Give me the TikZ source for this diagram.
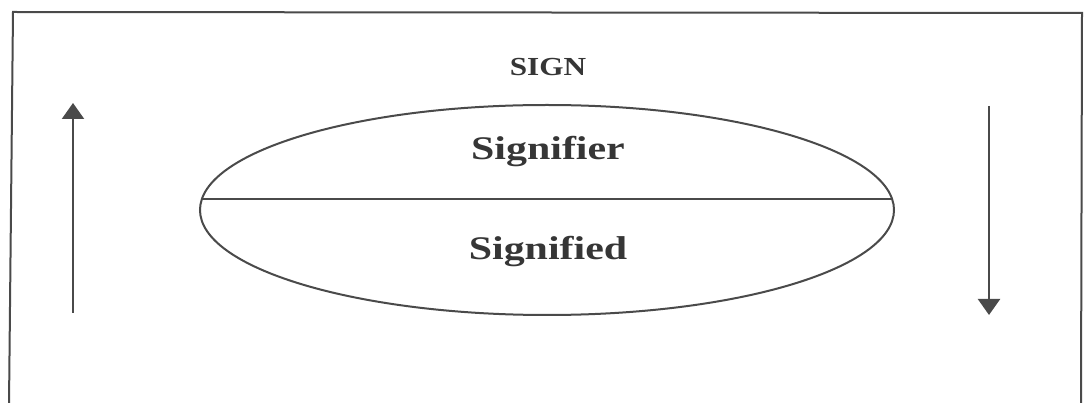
\documentclass[tikz,border=0pt]{standalone}
\usepackage{fontspec}
\setmainfont{Liberation Serif}
\usetikzlibrary{arrows.meta,shapes.geometric}
\definecolor{ink}{HTML}{4A4A4A}
\definecolor{txt}{HTML}{363636}
\begin{document}
\begin{tikzpicture}[x=1pt,y=-1pt,
  frameline/.style={draw=ink,line width=2pt},
  arr/.style={draw=ink,line width=2.2pt,-{Triangle[width=22pt,length=16pt]}},
  label/.style={text=txt,font=\bfseries,inner sep=0pt,anchor=base}]
\useasboundingbox[fill=white] (0,0) rectangle (1085,403);
% frame (open at the bottom)
\coordinate (fbl) at (9,405);
\coordinate (ftl) at (13,12);
\coordinate (ftr) at (1082,13);
\coordinate (fbr) at (1081,405);
\draw[frameline] (fbl) -- (ftl) -- (ftr) -- (fbr);
% ellipse
\node[ellipse,draw=ink,line width=2pt,minimum width=694pt,minimum height=210pt,inner sep=0pt] (ell) at (547,210) {};
\coordinate (dl) at (201.9,199);
\coordinate (dr) at (892.1,199);
\draw[draw=ink,line width=1.6pt] (dl) -- (dr);
% texts
\node[label] (sign) at (548,76) {\fontsize{26}{26}\selectfont\scalebox{1.2}[1]{SIGN}};
\node[label] (sfr) at (548,160) {\fontsize{33}{33}\selectfont\scalebox{1.27}[1]{Signifier}};
\node[label] (sfd) at (548,260) {\fontsize{33}{33}\selectfont\scalebox{1.27}[1]{Signified}};
% arrows
\coordinate (lb) at (73,313);
\coordinate (lt) at (73,103);
\coordinate (rt) at (989,106);
\coordinate (rb) at (989,315);
\draw[arr] (lb) -- (lt);
\draw[arr] (rt) -- (rb);
\end{tikzpicture}
\end{document}
